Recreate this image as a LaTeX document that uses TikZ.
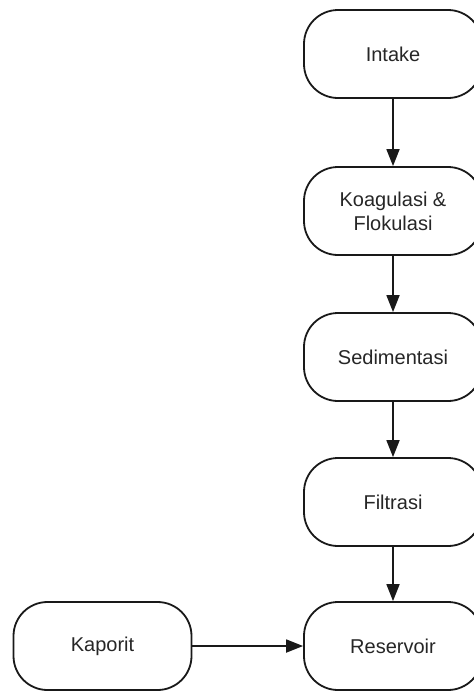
\documentclass[tikz,border=0pt]{standalone}
\usepackage{fontspec}
\setmainfont{Liberation Sans}
\usetikzlibrary{arrows.meta}
\begin{document}
\begin{tikzpicture}[x=1pt,y=-1pt,
  proc/.style={draw=black!90, line width=1.8pt, rounded corners=34pt,
    minimum width=178pt, minimum height=88pt, align=center,
    font=\fontsize{20}{24}\selectfont, text=black!85},
  flow/.style={draw=black!90, line width=1.8pt,
    -{Triangle[length=17pt,width=13pt]}}]
\useasboundingbox (0,0) rectangle (474,691);
\node[proc] (intake) at (393,54) {Intake};
\node[proc] (koag) at (393,211) {Koagulasi \&\\Flokulasi};
\node[proc] (sed) at (393,357) {Sedimentasi};
\node[proc] (filt) at (393,502) {Filtrasi};
\node[proc] (res) at (393,646) {Reservoir};
\node[proc] (kap) at (102.5,646) {Kaporit};
\draw[flow] (intake) -- (koag);
\draw[flow] (koag) -- (sed);
\draw[flow] (sed) -- (filt);
\draw[flow] (filt) -- (res);
\draw[flow] (kap) -- (res);
\end{tikzpicture}
\end{document}
